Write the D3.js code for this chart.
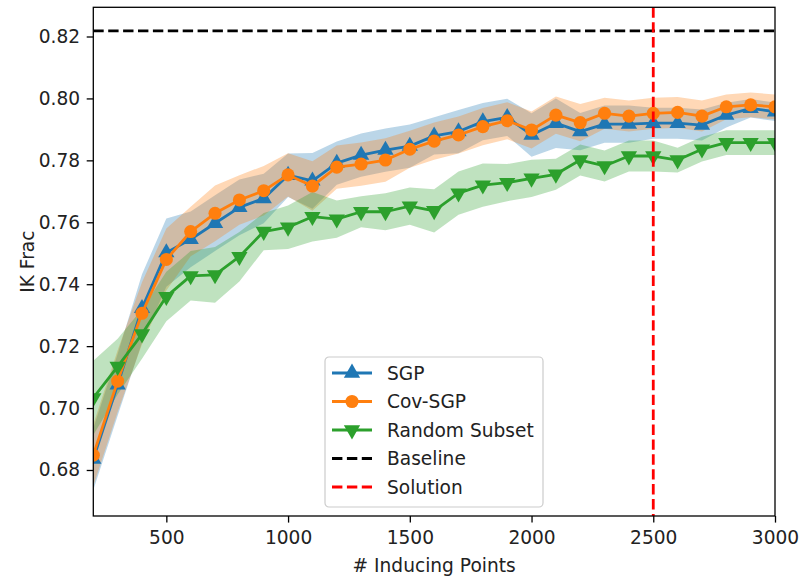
<!DOCTYPE html>
<html>
<head>
<meta charset="utf-8">
<script src="https://cdn.jsdelivr.net/npm/d3@7"></script>
<style>
  body { margin: 0; background: #fff; }
  svg { font-family: "DejaVu Sans", sans-serif; }
</style>
</head>
<body>
<div id="chart"></div>
<script>
// inducing point counts
const xs = [200, 300, 400, 500, 600, 700, 800, 900, 1000, 1100, 1200, 1300, 1400, 1500,
  1600, 1700, 1800, 1900, 2000, 2100, 2200, 2300, 2400, 2500, 2600, 2700, 2800, 2900, 3000];

const sgpMean = [0.6835, 0.7075, 0.7322, 0.7502, 0.7545, 0.7597, 0.7648, 0.7677, 0.7752, 0.7734,
  0.7791, 0.7817, 0.7833, 0.7846, 0.7879, 0.7893, 0.7925, 0.7939, 0.7882, 0.7920,
  0.7893, 0.7917, 0.7917, 0.7920, 0.7920, 0.7914, 0.7946, 0.7968, 0.7957];
const sgpStd = [0.010, 0.010, 0.011, 0.011, 0.009, 0.009, 0.009, 0.008, 0.007, 0.009,
  0.007, 0.007, 0.007, 0.007, 0.006, 0.007, 0.006, 0.006, 0.007, 0.008,
  0.006, 0.006, 0.006, 0.005, 0.005, 0.005, 0.004, 0.003, 0.003];

const covMean = [0.6848, 0.7087, 0.7306, 0.7480, 0.7570, 0.7629, 0.7672, 0.7702, 0.7753, 0.7717,
  0.7778, 0.7788, 0.7801, 0.7836, 0.7862, 0.7882, 0.7909, 0.7928, 0.7898, 0.7946,
  0.7922, 0.7952, 0.7943, 0.7952, 0.7955, 0.7943, 0.7973, 0.7979, 0.7973];
const covStd = [0.010, 0.010, 0.010, 0.010, 0.008, 0.009, 0.008, 0.008, 0.007, 0.008,
  0.007, 0.007, 0.007, 0.006, 0.006, 0.006, 0.006, 0.006, 0.006, 0.006,
  0.006, 0.005, 0.005, 0.005, 0.005, 0.005, 0.004, 0.004, 0.004];

const randMean = [0.7033, 0.7134, 0.7239, 0.7360, 0.7427, 0.7430, 0.7489, 0.7570, 0.7584, 0.7618,
  0.7610, 0.7634, 0.7634, 0.7652, 0.7637, 0.7694, 0.7720, 0.7728, 0.7742, 0.7755,
  0.7801, 0.7782, 0.7814, 0.7814, 0.7801, 0.7836, 0.7857, 0.7857, 0.7857];
const randStd = [0.012, 0.009, 0.008, 0.008, 0.008, 0.009, 0.008, 0.006, 0.007, 0.008,
  0.006, 0.005, 0.006, 0.006, 0.007, 0.007, 0.007, 0.006, 0.006, 0.005,
  0.005, 0.005, 0.005, 0.005, 0.004, 0.004, 0.004, 0.004, 0.004];

const baselineValue = 0.8218;
const solutionX = 2500;

const xTicks = [500, 1000, 1500, 2000, 2500, 3000];
const yTicks = [0.68, 0.70, 0.72, 0.74, 0.76, 0.78, 0.80, 0.82];

const series = [
  { name: "SGP", mean: sgpMean, std: sgpStd, color: "#1f77b4", marker: "up" },
  { name: "Cov-SGP", mean: covMean, std: covStd, color: "#ff7f0e", marker: "circle" },
  { name: "Random Subset", mean: randMean, std: randStd, color: "#2ca02c", marker: "down" }
];

const width = 801, height = 581;
const plot = { left: 93.3, right: 775, top: 7.3, bottom: 516 };

const svg = d3.select("#chart").append("svg")
  .attr("width", width)
  .attr("height", height)
  .attr("viewBox", `0 0 ${width} ${height}`);

const x = d3.scaleLinear().domain([200, 3000]).range([plot.left, plot.right]);
const y = d3.scaleLinear().domain([0.66514, 0.82943]).range([plot.bottom, plot.top]);

svg.append("defs").append("clipPath").attr("id", "plot-clip")
  .append("rect")
  .attr("x", plot.left).attr("y", plot.top)
  .attr("width", plot.right - plot.left).attr("height", plot.bottom - plot.top);

const g = svg.append("g").attr("clip-path", "url(#plot-clip)");

const lw = 2.8;
const dash = "10.4,4.5";
const markerSym = {
  up: d3.symbol().type(d3.symbolTriangle).size(115),
  circle: d3.symbol().type(d3.symbolCircle).size(135),
  down: d3.symbol().type(d3.symbolTriangle).size(115)
};

const toPts = s => xs.map((v, i) => ({ x: v, m: s.mean[i], sd: s.std[i] }));

// bands go under every line (matplotlib zorder)
series.forEach(s => {
  g.append("path")
    .datum(toPts(s))
    .attr("fill", s.color)
    .attr("fill-opacity", 0.3)
    .attr("d", d3.area()
      .x(d => x(d.x))
      .y0(d => y(d.m - d.sd))
      .y1(d => y(d.m + d.sd)));
});

series.forEach(s => {
  const pts = toPts(s);
  g.append("path")
    .datum(pts)
    .attr("fill", "none")
    .attr("stroke", s.color)
    .attr("stroke-width", lw)
    .attr("stroke-linejoin", "round")
    .attr("d", d3.line().x(d => x(d.x)).y(d => y(d.m)));

  g.selectAll(null)
    .data(pts)
    .join("path")
    .attr("transform", d => `translate(${x(d.x)},${y(d.m)})${s.marker === "down" ? " rotate(180)" : ""}`)
    .attr("d", markerSym[s.marker]())
    .attr("fill", s.color);
});

// baseline + solution
g.append("line")
  .attr("x1", plot.left).attr("x2", plot.right)
  .attr("y1", y(baselineValue)).attr("y2", y(baselineValue))
  .attr("stroke", "black").attr("stroke-width", lw)
  .attr("stroke-dasharray", dash);

g.append("line")
  .attr("x1", x(solutionX)).attr("x2", x(solutionX))
  .attr("y1", plot.top).attr("y2", plot.bottom)
  .attr("stroke", "red").attr("stroke-width", lw)
  .attr("stroke-dasharray", dash);

// axes
const fontSize = 18.6;
const xAxis = svg.append("g")
  .attr("transform", `translate(0,${plot.bottom})`)
  .call(d3.axisBottom(x).tickValues(xTicks).tickSize(6.6).tickPadding(8).tickFormat(d3.format("d")));
const yAxis = svg.append("g")
  .attr("transform", `translate(${plot.left},0)`)
  .call(d3.axisLeft(y).tickValues(yTicks).tickSize(6.6).tickPadding(6.6).tickFormat(d3.format(".2f")));

[xAxis, yAxis].forEach(ax => {
  ax.select(".domain").remove();
  ax.selectAll(".tick line").attr("stroke", "#000").attr("stroke-width", 1.3);
  ax.selectAll(".tick text")
    .attr("font-family", "DejaVu Sans, sans-serif")
    .attr("font-size", fontSize)
    .attr("fill", "#222");
});

svg.append("rect")
  .attr("x", plot.left).attr("y", plot.top)
  .attr("width", plot.right - plot.left).attr("height", plot.bottom - plot.top)
  .attr("fill", "none").attr("stroke", "#000").attr("stroke-width", 1.3);

svg.append("text")
  .attr("x", (plot.left + plot.right) / 2)
  .attr("y", 572)
  .attr("text-anchor", "middle")
  .attr("font-size", fontSize)
  .attr("fill", "#222")
  .text("# Inducing Points");

svg.append("text")
  .attr("transform", `translate(34,${(plot.top + plot.bottom) / 2}) rotate(-90)`)
  .attr("text-anchor", "middle")
  .attr("font-size", fontSize)
  .attr("fill", "#222")
  .text("IK Frac");

// legend
const legendItems = [
  { name: "SGP", color: "#1f77b4", marker: "up" },
  { name: "Cov-SGP", color: "#ff7f0e", marker: "circle" },
  { name: "Random Subset", color: "#2ca02c", marker: "down" },
  { name: "Baseline", color: "black", dash: true },
  { name: "Solution", color: "red", dash: true }
];

const legend = svg.append("g").attr("transform", "translate(325,357)");
legend.append("rect")
  .attr("width", 218).attr("height", 150)
  .attr("rx", 4)
  .attr("fill", "white").attr("fill-opacity", 0.8)
  .attr("stroke", "#ccc").attr("stroke-width", 1.2);

legendItems.forEach((d, i) => {
  const row = legend.append("g").attr("transform", `translate(0,${16 + i * 28.5})`);
  row.append("line")
    .attr("x1", 7).attr("x2", 47)
    .attr("stroke", d.color).attr("stroke-width", lw)
    .attr("stroke-dasharray", d.dash ? dash : null);
  if (d.marker) {
    row.append("path")
      .attr("transform", `translate(27,0)${d.marker === "down" ? " rotate(180)" : ""}`)
      .attr("d", markerSym[d.marker]())
      .attr("fill", d.color);
  }
  row.append("text")
    .attr("x", 62).attr("y", 0)
    .attr("dy", "0.35em")
    .attr("font-size", fontSize)
    .attr("fill", "#222")
    .text(d.name);
});
</script>
</body>
</html>
